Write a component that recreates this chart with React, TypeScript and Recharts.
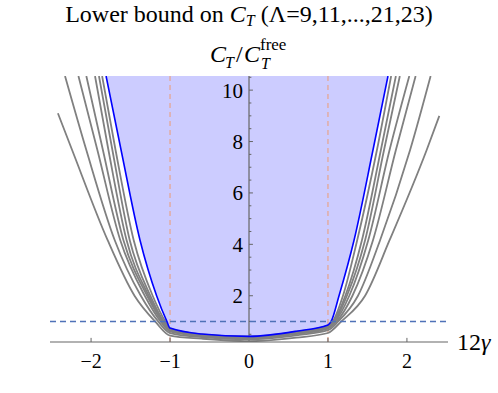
import React from 'react'
import { ComposedChart, Line, Area, XAxis, YAxis, ReferenceLine, ReferenceDot } from 'recharts'

// lower-bound curves, points are [12γ, C_T/C_T^free]
const L9 = [[-2.42, 9.1], [-2.24, 7.67], [-1.79, 4.16], [-1.45, 2.0], [-1.19, 1.0], [-1.0, 0.45], [-0.6, 0.33], [0, 0.23], [0.6, 0.37], [1.0, 0.55], [1.17, 1.0], [1.47, 2.0], [1.78, 4.16], [2.25, 7.67], [2.41, 9.0]]
const L11 = [[-2.33, 10.55], [-2.06, 7.67], [-1.7, 4.16], [-1.37, 2.0], [-1.15, 1.0], [-1.0, 0.55], [-0.6, 0.39], [0, 0.3], [0.6, 0.46], [1.0, 0.66], [1.13, 1.0], [1.38, 2.0], [1.66, 4.16], [2.04, 7.67], [2.3, 10.55]]
const L13 = [[-2.16, 10.55], [-1.92, 7.67], [-1.63, 4.16], [-1.32, 2.0], [-1.12, 1.0], [-1.0, 0.61], [-0.6, 0.43], [0, 0.33], [0.6, 0.51], [1.0, 0.72], [1.11, 1.0], [1.31, 2.0], [1.57, 4.16], [1.86, 7.67], [2.11, 10.55]]
const L15 = [[-2.06, 10.55], [-1.85, 7.67], [-1.59, 4.16], [-1.29, 2.0], [-1.1, 1.0], [-1.0, 0.65], [-0.6, 0.45], [0, 0.36], [0.6, 0.54], [1.0, 0.76], [1.09, 1.0], [1.27, 2.0], [1.51, 4.16], [1.78, 7.67], [2.03, 10.55]]
const L17 = [[-1.95, 10.55], [-1.78, 7.67], [-1.55, 4.16], [-1.27, 2.0], [-1.09, 1.0], [-1.0, 0.68], [-0.6, 0.47], [0, 0.38], [0.6, 0.57], [1.0, 0.79], [1.08, 1.0], [1.24, 2.0], [1.47, 4.16], [1.71, 7.67], [1.91, 10.55]]
const L19 = [[-1.9, 10.55], [-1.73, 7.67], [-1.51, 4.16], [-1.25, 2.0], [-1.08, 1.0], [-1.0, 0.7], [-0.6, 0.48], [0, 0.39], [0.6, 0.59], [1.0, 0.82], [1.07, 1.0], [1.22, 2.0], [1.43, 4.16], [1.67, 7.67], [1.86, 10.55]]
const L21 = [[-1.86, 10.55], [-1.69, 7.67], [-1.46, 4.16], [-1.22, 2.0], [-1.06, 1.0], [-1.0, 0.72], [-0.6, 0.5], [0, 0.41], [0.6, 0.6], [1.0, 0.84], [1.06, 1.0], [1.19, 2.0], [1.37, 4.16], [1.62, 7.67], [1.8, 10.55]]
const L23 = [[-1.81, 10.55], [-1.62, 7.67], [-1.38, 4.16], [-1.17, 2.0], [-1.04, 1.0], [-1.0, 0.74], [-0.6, 0.51], [0, 0.42], [0.6, 0.62], [1.0, 0.86], [1.04, 1.0], [1.14, 2.0], [1.33, 4.16], [1.57, 7.67], [1.76, 10.55]]

const GRAY_CURVES = [L9, L11, L13, L15, L17, L19, L21]

const X_TICKS = [-2, -1, 0, 1, 2]
const Y_TICKS = [2, 4, 6, 8, 10]
const Y_MINOR = [0.5, 1, 1.5, 2.5, 3, 3.5, 4.5, 5, 5.5, 6.5, 7, 7.5, 8.5, 9, 9.5, 10.5]

const X_DOMAIN = [-2.52, 2.52]
const Y_DOMAIN = [0.2, 10.55]

const SERIF = 'Liberation Serif'
const AXIS = '#666'
const serifStyle = { fontFamily: SERIF }

const toPts = (arr: number[][]) => arr.map(([x, y]) => ({ x, y }))

const fmt = (v: number) => (v < 0 ? '\u2212' + Math.abs(v) : String(v))

function XTick({ x, y, payload }: any) {
  return (
    <text x={x} y={y} dy={18} textAnchor="middle" fontSize={20} style={serifStyle} fill="#000">
      {fmt(payload.value)}
    </text>
  )
}

export default function App() {
  const blue = toPts(L23)
  return (
    <div style={{ position: 'absolute', left: 0, top: 0, width: 498, height: 393, background: '#fff' }}>
      <ComposedChart width={498} height={393} margin={{ top: 76, right: 50, bottom: 21, left: 50 }}>
        <XAxis
          type="number"
          dataKey="x"
          domain={X_DOMAIN}
          allowDataOverflow
          ticks={X_TICKS}
          tickLine={false}
          tick={<XTick />}
          axisLine={{ stroke: AXIS, strokeWidth: 1.2 }}
          height={30}
        />
        <YAxis type="number" dataKey="y" domain={Y_DOMAIN} allowDataOverflow hide />

        <Area
          data={blue}
          dataKey={(d: any) => [d.y, 11]}
          type="monotone"
          fill="#ccccff"
          fillOpacity={1}
          stroke="none"
          isAnimationActive={false}
        />

        <ReferenceLine x={-1} stroke="#e8a48c" strokeDasharray="5 4" strokeWidth={1.2} />
        <ReferenceLine x={1} stroke="#e8a48c" strokeDasharray="5 4" strokeWidth={1.2} />
        <ReferenceLine x={0} stroke={AXIS} strokeWidth={1.2} />

        {X_TICKS.map((v) => (
          <ReferenceLine key={'xt' + v} segment={[{ x: v, y: 0.2 }, { x: v, y: 0.36 }]} stroke={AXIS} />
        ))}
        {Y_TICKS.map((v) => (
          <ReferenceLine key={'yt' + v} segment={[{ x: 0, y: v }, { x: 0.05, y: v }]} stroke={AXIS} />
        ))}
        {Y_MINOR.map((v) => (
          <ReferenceLine key={'ym' + v} segment={[{ x: 0, y: v }, { x: 0.03, y: v }]} stroke={AXIS} />
        ))}
        {Y_TICKS.map((v) => (
          <ReferenceDot
            key={'yl' + v}
            x={0}
            y={v}
            r={0}
            fill="none"
            stroke="none"
            label={{ value: String(v), position: 'left', offset: 6, fontSize: 21, fill: '#000', style: serifStyle }}
          />
        ))}

        {GRAY_CURVES.map((c, i) => (
          <Line
            key={'c' + i}
            data={toPts(c)}
            dataKey="y"
            type="monotone"
            stroke="#808080"
            strokeWidth={1.8}
            dot={false}
            activeDot={false}
            isAnimationActive={false}
          />
        ))}
        <Line
          data={blue}
          dataKey="y"
          type="monotone"
          stroke="#0000ff"
          strokeWidth={1.6}
          dot={false}
          activeDot={false}
          isAnimationActive={false}
        />

        <ReferenceLine y={1} stroke="#4f72b8" strokeDasharray="6 4" strokeWidth={1.4} />
      </ComposedChart>

      <svg
        width={498}
        height={393}
        style={{ position: 'absolute', left: 0, top: 0, pointerEvents: 'none', fontFamily: SERIF }}
      >
        <text x={249} y={22} textAnchor="middle" fontSize={24}>
          Lower bound on <tspan fontStyle="italic">C</tspan>
          <tspan fontStyle="italic" fontSize={16} dy={4}>T</tspan>
          <tspan dy={-4}> ({'\u039B'}=9,11,...,21,23)</tspan>
        </text>

        <text x={210} y={62} fontSize={24} fontStyle="italic">C</text>
        <text x={225} y={68} fontSize={16} fontStyle="italic">T</text>
        <text x={236} y={62} fontSize={24}>/</text>
        <text x={244} y={62} fontSize={24} fontStyle="italic">C</text>
        <text x={260} y={50} fontSize={17}>free</text>
        <text x={261} y={69} fontSize={16} fontStyle="italic">T</text>

        <text x={457} y={350} fontSize={24}>
          12<tspan fontStyle="italic">{'\u03B3'}</tspan>
        </text>
      </svg>
    </div>
  )
}
